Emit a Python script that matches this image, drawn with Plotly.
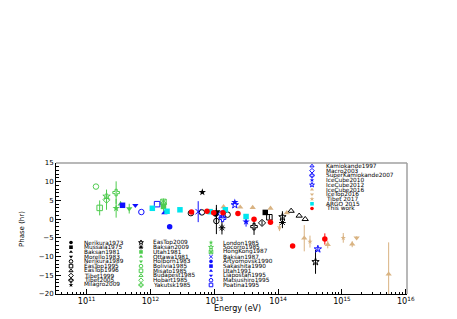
import plotly.graph_objects as go

# ---------------- data: (energy [eV], phase [hr], error [hr]) ----------------
NERIKURA1973 = [(1.05e13, 1.4, 0.0)]
MUSSALA1975 = [(6.3e13, 1.8, 0.6)]
BAKSAN1981 = [(1.08e13, 1.5, 2.3)]
MORELLO1983 = [(1.12e13, 2.0, 0.0)]
NERIKURA1989 = [(4.3e12, 1.6, 0.0), (6.4e12, 1.8, 0.0), (1.08e13, -0.5, 3.5), (1.62e13, 1.2, 0.0)]
EASTOP1995 = [(7.3e13, 0.5, 0.6)]
EASTOP1996 = [(1.6e14, 2.2, 0.0), (2.14e14, 0.9, 0.0), (2.66e14, 0.0, 0.0)]
TIBET1999 = [(5.6e13, -1.0, 0.7)]
TIBET2005 = [(4.2e13, -2.0, 2.2)]
MILAGRO2009 = [(6.5e12, 7.2, 0.0)]
EASTOP2009 = [(1.17e14, 0.6, 1.5), (3.86e14, -11.4, 3.2)]
BAKSAN2009 = [(1.32e13, -2.3, 1.8), (1.17e14, -0.9, 1.5)]
UTAH1981 = [(1.6e12, 3.4, 1.2)]
OTTAWA1981 = [(3.4e11, 4.0, 0.8)]
HOLBORN1983 = [(4.65e11, 2.8, 1.3)]
BOLIVIA1985 = [(1.4e11, 8.7, 0.0)]
MISATO1985 = [(1.6e11, 3.0, 2.0)]
BUDAPEST1985 = [(1.6e12, 4.4, 0.0)]
HOBART1985 = [(2.05e11, 5.2, 2.7)]
YAKUTSK1985 = [(2.9e11, 7.1, 3.0)]
LONDON1985 = [(2.9e11, 2.9, 2.5)]
SOCORRO1985 = [(2.05e11, 6.1, 0.0)]
HONGKONG1987 = [(1.6e12, 4.6, 0.9)]
BAKSAN1987 = [(5.6e12, 2.0, 2.8)]
ARTYOMOVSK1990 = [(2.0e12, -2.0, 0.3)]
SAKASHITA1990 = [(3.65e11, 3.7, 0.3)]
UTAH1991 = [(1.65e12, 1.7, 0.0)]
LIAPOSTAH1995 = [(5.8e11, 3.7, 0.0)]
MATSUSHIRO1995 = [(7.2e11, 1.9, 0.0)]
POATINA1995 = [(1.27e12, 4.0, 0.0)]
KAMIOKANDE1997 = [(1.32e13, 0.7, 0.0)]
MACRO2003 = [(1.3e13, 1.3, 0.0)]
SUPERK2007 = [(1.35e13, 0.2, 0.0)]
ICECUBE2010 = [(2.1e13, 4.5, 0.0), (3.15e13, -0.7, 1.3)]
ICECUBE2012 = [(2.1e13, 3.8, 0.0), (4.2e14, -8.0, 0.6)]
ICECUBE2016 = [(1.4e13, 3.3, 0.0), (2.55e13, 3.2, 0.0), (4.0e13, 3.1, 0.0), (7.6e13, 2.9, 0.0),
               (1.37e14, 1.7, 0.0), (2.57e14, -5.1, 3.5), (6.0e14, -6.8, 1.0),
               (1.45e15, -6.7, 0.8), (5.4e15, -14.7, 8.5)]
ICETOP2016 = [(1.7e15, -5.0, 0.4)]
TIBET2017 = [(1.05e14, -2.2, 1.0), (3.16e14, -6.0, 1.6), (1.05e15, -5.0, 1.3)]
ARGO2015 = [(1.07e12, 2.9, 0.0), (1.82e12, 2.1, 0.0), (2.9e12, 2.5, 0.0), (8.6e12, 2.0, 0.0),
            (1.49e13, 2.5, 0.0), (3.15e13, 0.7, 0.0)]
THISWORK = [(4.4e12, 1.9, 0.3), (7.7e12, 2.1, 0.3), (9.8e12, 1.7, 0.3), (1.37e13, 1.7, 0.3),
            (2.35e13, 1.5, 0.3), (4.2e13, 0.0, 0.4), (7.6e13, -0.8, 0.4), (1.69e14, -7.2, 0.5),
            (5.4e14, -5.3, 1.5)]

Y_TICKS = [-20, -15, -10, -5, 0, 5, 10, 15]

# ---------------- styles ----------------
BLACK = "#000000"
GREEN = "#4fcc4f"
BLUE = "#1010ff"
TAN = "#d9b382"
CYAN = "#00e5ee"
RED = "#ff0000"

SERIES = [
    ("Nerikura1973", NERIKURA1973, "circle", BLACK),
    ("Mussala1975", MUSSALA1975, "square", BLACK),
    ("Baksan1981", BAKSAN1981, "triangle-up", BLACK),
    ("Morello1983", MORELLO1983, "triangle-down", BLACK),
    ("Nerikura1989", NERIKURA1989, "circle-open", BLACK),
    ("EasTop1995", EASTOP1995, "square-open", BLACK),
    ("EasTop1996", EASTOP1996, "triangle-up-open", BLACK),
    ("Tibet1999", TIBET1999, "diamond-open", BLACK),
    ("Tibet2005", TIBET2005, "cross-open", BLACK),
    ("Milagro2009", MILAGRO2009, "star", BLACK),
    ("EasTop2009", EASTOP2009, "star-open", BLACK),
    ("Baksan2009", BAKSAN2009, "asterisk-open", BLACK),
    ("Utah1981", UTAH1981, "square", GREEN),
    ("Ottawa1981", OTTAWA1981, "triangle-up", GREEN),
    ("Holborn1983", HOLBORN1983, "triangle-down", GREEN),
    ("Bolivia1985", BOLIVIA1985, "circle-open", GREEN),
    ("Misato1985", MISATO1985, "square-open", GREEN),
    ("Budapest1985", BUDAPEST1985, "triangle-up-open", GREEN),
    ("Hobart1985", HOBART1985, "diamond-open", GREEN),
    ("Yakutsk1985", YAKUTSK1985, "cross-open", GREEN),
    ("London1985", LONDON1985, "star", GREEN),
    ("Socorro1985", SOCORRO1985, "star-open", GREEN),
    ("HongKong1987", HONGKONG1987, "square-x-open", GREEN),
    ("Baksan1987", BAKSAN1987, "x-thin-open", BLUE),
    ("Artyomovsk1990", ARTYOMOVSK1990, "circle", BLUE),
    ("Sakashita1990", SAKASHITA1990, "square", BLUE),
    ("Utah1991", UTAH1991, "triangle-up", BLUE),
    ("Liapostah1995", LIAPOSTAH1995, "triangle-down", BLUE),
    ("Matsushiro1995", MATSUSHIRO1995, "circle-open", BLUE),
    ("Poatina1995", POATINA1995, "square-open", BLUE),
    ("Kamiokande1997", KAMIOKANDE1997, "triangle-up-open", BLUE),
    ("Macro2003", MACRO2003, "diamond-open", BLUE),
    ("SuperKamiokande2007", SUPERK2007, "cross-open", BLUE),
    ("IceCube2010", ICECUBE2010, "star", BLUE),
    ("IceCube2012", ICECUBE2012, "star-open", BLUE),
    ("IceCube2016", ICECUBE2016, "triangle-up", TAN),
    ("IceTop2016", ICETOP2016, "triangle-down", TAN),
    ("Tibet 2017", TIBET2017, "star", TAN),
    ("ARGO 2015", ARGO2015, "square", CYAN),
    ("This work", THISWORK, "circle", RED),
]

# page layout (page pixels); the page body adds an 8px offset
OFF = 8
PX0, PX1 = 56, 407          # plot area, page pixels
PY0, PY1 = 163, 294
W, H = 457 - OFF, 319 - OFF
ML, MT = PX0 - OFF, PY0 - OFF
MR, MB = W - (PX1 - OFF), H - (PY1 - OFF)

FONT = "DejaVu Sans, Verdana, sans-serif"

fig = go.Figure()


def marker_for(sym, col, size):
    open_ = sym.endswith("-open")
    return dict(symbol=sym, size=size, color=col,
                line=dict(color=col, width=1 if open_ else 0))


for name, pts, sym, col in SERIES:
    xs = [p[0] for p in pts]
    ys = [p[1] for p in pts]
    es = [p[2] for p in pts]
    size = 4 if name == "Tibet 2017" else 5.5
    fig.add_trace(go.Scatter(
        x=xs, y=ys, mode="markers", name=name, showlegend=False,
        marker=marker_for(sym, col, size),
        error_y=dict(type="data", array=es, visible=True, color=col, thickness=1, width=0),
        cliponaxis=False,
    ))

# ---------------- hand-built legend (page-pixel coordinates on an overlay axis) ----------------
COLS = [(71, 83, 242.5), (141, 152, 242.5), (211, 222, 242.5), (312, 325, 166.0)]
ROW_STEP = 4.72
annotations = []
for i, (name, pts, sym, col) in enumerate(SERIES):
    c, r = divmod(i, 10)
    mx, tx, y0 = COLS[c]
    yy = y0 + r * ROW_STEP
    fig.add_trace(go.Scatter(
        x=[mx], y=[yy], mode="markers", xaxis="x2", yaxis="y2", showlegend=False,
        marker=marker_for(sym, col, 3.6), hoverinfo="skip", cliponaxis=False))
    annotations.append(dict(x=tx, y=yy, xref="x2", yref="y2", text=name, showarrow=False,
                            xanchor="left", yanchor="middle", borderpad=0,
                            font=dict(family=FONT, size=5.8, color="black")))


def paper(px, py):
    return (px - PX0) / (PX1 - PX0), (PY1 - py) / (PY1 - PY0)


ex, ey = paper(237, 308)
annotations.append(dict(x=ex, y=ey, xref="paper", yref="paper", text="Energy (eV)",
                        showarrow=False, xanchor="center", yanchor="middle", borderpad=0,
                        font=dict(family=FONT, size=8, color="black")))
px_, py_ = paper(22, 229)
annotations.append(dict(x=px_, y=py_, xref="paper", yref="paper", text="Phase (hr)",
                        showarrow=False, xanchor="center", yanchor="middle", textangle=-90,
                        font=dict(family=FONT, size=7, color="black")))

fig.update_layout(
    width=W, height=H,
    margin=dict(l=ML, r=MR, t=MT, b=MB, pad=0),
    paper_bgcolor="white", plot_bgcolor="white",
    showlegend=False,
    font=dict(family=FONT, size=7, color="black"),
    xaxis=dict(type="log", range=[10.52, 16.02], dtick=1, exponentformat="power",
               showexponent="all", ticks="inside", ticklen=5, tickcolor="black",
               showline=True, linecolor="black", linewidth=1, mirror=False,
               showgrid=False, zeroline=False,
               minor=dict(ticks="inside", ticklen=2.5, tickcolor="black", showgrid=False),
               tickfont=dict(family=FONT, size=6.5)),
    yaxis=dict(range=[-20, 15], tickvals=Y_TICKS, ticks="inside", ticklen=5,
               tickcolor="black", showline=True, linecolor="black", linewidth=1,
               mirror=False, showgrid=False, zeroline=False,
               minor=dict(ticks="inside", ticklen=2.5, dtick=1, tickcolor="black",
                          showgrid=False),
               tickfont=dict(family=FONT, size=7)),
    xaxis2=dict(overlaying="x", anchor="y2", range=[PX0, PX1], visible=False),
    yaxis2=dict(overlaying="y", anchor="x2", range=[PY1, PY0], visible=False),
    annotations=annotations,
    shapes=[
        dict(type="line", xref="paper", yref="paper", x0=0, x1=1, y0=1, y1=1,
             line=dict(color="#a0a0a0", width=1.5)),
        dict(type="line", xref="paper", yref="paper", x0=1, x1=1, y0=0, y1=1,
             line=dict(color="#a0a0a0", width=1.5)),
    ],
)

fig.write_html("out.html")
